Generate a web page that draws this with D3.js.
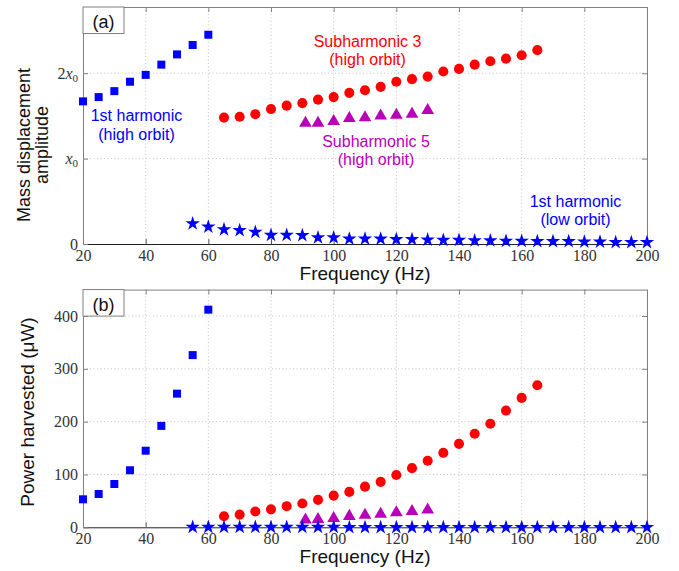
<!DOCTYPE html>
<html>
<head>
<meta charset="utf-8">
<script src="https://cdn.jsdelivr.net/npm/d3@7"></script>
<style>
  body { margin: 0; background: #fff; }
  svg { display: block; background: #fff; }
  .tick text { font-family: 'Liberation Serif', 'Times New Roman', serif; font-size: 16px; fill: #333; }
  .ax-label { font-family: 'Liberation Sans', Arial, sans-serif; fill: #111; }
  .note { font-family: 'Liberation Sans', Arial, sans-serif; font-size: 16px; text-anchor: middle; }
  .grid line { stroke: #c4c4c4; stroke-width: 1; stroke-dasharray: 1,2.5; }
</style>
</head>
<body>
<svg width="679" height="571"></svg>
<script>
'use strict';

// 1st harmonic, high orbit
var freqHigh = [20, 25, 30, 35, 40, 45, 50, 55, 60];
var dispHigh = [1.67, 1.72, 1.79, 1.90, 1.98, 2.10, 2.22, 2.33, 2.45];
var powHigh = [53, 63, 82, 108, 145, 192, 253, 326, 412];

// Subharmonic 3, high orbit
var freqSub3 = [65, 70, 75, 80, 85, 90, 95, 100, 105, 110, 115, 120, 125, 130, 135, 140, 145, 150, 155, 160, 165];
var dispSub3 = [1.48, 1.49, 1.52, 1.58, 1.62, 1.65, 1.69, 1.72, 1.77, 1.80, 1.84, 1.90, 1.93, 1.96, 2.02, 2.05, 2.10, 2.14, 2.17, 2.21, 2.27];
var powSub3 = [21, 24, 30, 34, 40, 45, 52, 60, 67, 77, 86, 99, 112, 126, 141, 158, 177, 196, 221, 245, 269];

// Subharmonic 5, high orbit
var freqSub5 = [91, 95, 100, 105, 110, 115, 120, 125, 130];
var dispSub5 = [1.415, 1.415, 1.435, 1.47, 1.48, 1.50, 1.51, 1.52, 1.565];
var powSub5 = [14, 15, 17, 21, 23, 25, 28, 30, 33];

// 1st harmonic, low orbit
var freqLow = [55, 60, 65, 70, 75, 80, 85, 90, 95, 100, 105, 110, 115, 120, 125, 130, 135, 140, 145, 150, 155, 160, 165, 170, 175, 180, 185, 190, 195, 200];
var dispLow = [0.24, 0.20, 0.17, 0.16, 0.14, 0.105, 0.105, 0.10, 0.075, 0.075, 0.06, 0.06, 0.06, 0.055, 0.055, 0.05, 0.045, 0.045, 0.04, 0.04, 0.035, 0.035, 0.03, 0.03, 0.03, 0.025, 0.025, 0.02, 0.02, 0.02];
var powLow = [0.4, 0.4, 0.3, 0.3, 0.3, 0.2, 0.2, 0.2, 0.2, 0.2, 0.1, 0.1, 0.1, 0.1, 0.1, 0.1, 0.1, 0.1, 0.1, 0.1, 0.1, 0.1, 0.1, 0.1, 0.1, 0.1, 0.1, 0.1, 0.1, 0.1];

// Tick values
var xTicks = [20, 40, 60, 80, 100, 120, 140, 160, 180, 200];
var dispTicks = [0, 1, 2];
var powTicks = [0, 100, 200, 300, 400];

var BLUE = '#0000ff';
var RED = '#ff0000';
var MAGENTA = '#b800b8';

var svg = d3.select('svg');

var left = 83, right = 647;
var xScale = d3.scaleLinear().domain([20, 200]).range([left, right]);
var yDisp = d3.scaleLinear().domain([0, 2.775]).range([244, 7]);
var yPow = d3.scaleLinear().domain([0, 450]).range([527.3, 289.6]);

function drawPanel(yScale, yTicks, yFormat, label) {
  var top = yScale.range()[1];
  var bottom = yScale.range()[0];
  var g = svg.append('g');

  //Grid
  var grid = g.append('g').classed('grid', true);
  grid.selectAll('.gx').data(xTicks.slice(1, -1)).enter().append('line')
    .attr('x1', function (d) { return xScale(d); }).attr('x2', function (d) { return xScale(d); })
    .attr('y1', top).attr('y2', bottom);
  grid.selectAll('.gy').data(yTicks.slice(1)).enter().append('line')
    .attr('x1', left).attr('x2', right)
    .attr('y1', function (d) { return yScale(d); }).attr('y2', function (d) { return yScale(d); });

  //Axes (ticks point inward)
  var xb = g.append('g').attr('transform', 'translate(0,' + bottom + ')')
    .call(d3.axisBottom(xScale).tickValues(xTicks).tickSizeInner(-5).tickSizeOuter(0).tickPadding(5.5));
  var xt = g.append('g').attr('transform', 'translate(0,' + top + ')')
    .call(d3.axisTop(xScale).tickValues(xTicks).tickSizeInner(-5).tickSizeOuter(0).tickFormat(''));
  var yl = g.append('g').classed('y-axis', true).attr('transform', 'translate(' + left + ',0)')
    .call(d3.axisLeft(yScale).tickValues(yTicks).tickSizeInner(-5).tickSizeOuter(0).tickPadding(5).tickFormat(yFormat));
  var yr = g.append('g').attr('transform', 'translate(' + right + ',0)')
    .call(d3.axisRight(yScale).tickValues(yTicks).tickSizeInner(-5).tickSizeOuter(0).tickFormat(''));

  [xt, yl, yr].forEach(function (a) {
    a.select('.domain').attr('stroke', '#808080');
    a.selectAll('.tick line').attr('stroke', '#808080');
  });
  xb.select('.domain').attr('stroke', '#222');
  xb.selectAll('.tick line').attr('stroke', '#555');
  xt.selectAll('.tick text').remove();
  yr.selectAll('.tick text').remove();
  g.selectAll('.tick text').attr('font-family', null).attr('font-size', null);

  //Panel label box
  g.append('rect').attr('x', left).attr('y', top).attr('width', 41).attr('height', 26.5)
    .attr('fill', '#fff').attr('stroke', '#808080');
  g.append('text').classed('ax-label', true).attr('x', left + 20.5).attr('y', top + 21)
    .attr('text-anchor', 'middle').attr('font-size', '18px').text(label);

  //X label
  g.append('text').classed('ax-label', true).attr('x', (left + right) / 2).attr('y', bottom + 36)
    .attr('text-anchor', 'middle').attr('font-size', '19px').text('Frequency (Hz)');

  return g;
}

function drawMarkers(g, type, size, color, xs, ys, yScale) {
  var sym = d3.symbol().type(type).size(size);
  g.append('g').selectAll('path').data(xs).enter().append('path')
    .attr('transform', function (d, i) { return 'translate(' + xScale(d) + ',' + yScale(ys[i]) + ')'; })
    .attr('d', sym).attr('fill', color);
}

function addNote(g, x, y, color, lines) {
  var t = g.append('text').classed('note', true).attr('fill', color);
  lines.forEach(function (s, i) {
    t.append('tspan').attr('x', x).attr('y', y + i * 18.5).text(s);
  });
}

//Panel (a)
var gA = drawPanel(yDisp, dispTicks, function () { return ''; }, '(a)');
gA.selectAll('.y-axis .tick text').each(function (d) {
  var t = d3.select(this);
  if (d === 0) { t.text('0'); return; }
  if (d > 1) t.append('tspan').text(d);
  t.append('tspan').attr('font-style', 'italic').text('x');
  t.append('tspan').attr('font-size', '11px').attr('dy', '3').text('0');
});

drawMarkers(gA, d3.symbolSquare, 64, BLUE, freqHigh, dispHigh, yDisp);
drawMarkers(gA, d3.symbolCircle, 80, RED, freqSub3, dispSub3, yDisp);
drawMarkers(gA, d3.symbolTriangle, 70, MAGENTA, freqSub5, dispSub5, yDisp);
drawMarkers(gA, d3.symbolStar, 65, BLUE, freqLow, dispLow, yDisp);

addNote(gA, 136.5, 121, BLUE, ['1st harmonic', '(high orbit)']);
addNote(gA, 367.5, 46.5, RED, ['Subharmonic 3', '(high orbit)']);
addNote(gA, 376, 146.5, MAGENTA, ['Subharmonic 5', '(high orbit)']);
addNote(gA, 575.5, 206.5, BLUE, ['1st harmonic', '(low orbit)']);

var yLabA = gA.append('text').classed('ax-label', true).attr('font-size', '18px')
  .attr('text-anchor', 'middle').attr('transform', 'translate(30,145) rotate(-90)');
yLabA.append('tspan').attr('x', 0).attr('y', 0).text('Mass displacement');
yLabA.append('tspan').attr('x', 0).attr('y', 18).text('amplitude');

//Panel (b)
var gB = drawPanel(yPow, powTicks, d3.format('d'), '(b)');

drawMarkers(gB, d3.symbolSquare, 64, BLUE, freqHigh, powHigh, yPow);
drawMarkers(gB, d3.symbolCircle, 80, RED, freqSub3, powSub3, yPow);
drawMarkers(gB, d3.symbolTriangle, 70, MAGENTA, freqSub5, powSub5, yPow);
drawMarkers(gB, d3.symbolStar, 65, BLUE, freqLow, powLow, yPow);

gB.append('text').classed('ax-label', true).attr('font-size', '19px')
  .attr('text-anchor', 'middle').attr('transform', 'translate(34,412) rotate(-90)')
  .text('Power harvested (\u03bcW)');
</script>
</body>
</html>
